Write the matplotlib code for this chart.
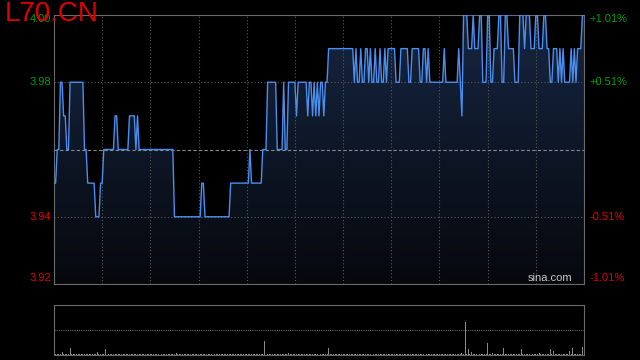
import numpy as np
import matplotlib.pyplot as plt
from matplotlib.patches import Polygon

plt.rcParams['font.family'] = ['Liberation Sans', 'DejaVu Sans']

# price: minute where each run starts, and price during that run (prev close 3.96)
seg_start = [0, 2, 4, 6, 8, 10, 19, 21, 26, 29, 31, 38, 40, 47, 51, 52, 53, 75, 92, 94,
             110, 122, 123, 130, 133, 139, 143, 144, 146, 151, 152, 158, 159, 161, 162, 163,
             164, 165, 166, 168, 169, 171, 187, 188, 189, 191, 192, 194, 196, 197, 198, 200,
             201, 203, 204, 206, 207, 208, 213, 216, 221, 223, 228, 230, 232, 233, 234, 243,
             244, 252, 253, 254, 255, 258, 261, 262, 265, 267, 270, 272, 274, 277, 279, 281,
             283, 287, 290, 293, 294, 297, 300, 302, 305, 307, 309, 311, 314, 315, 316, 317,
             318, 322, 323, 324, 325, 326, 329]
seg_price = [3.95, 3.96, 3.98, 3.97, 3.96, 3.98, 3.96, 3.95, 3.94, 3.95, 3.96, 3.97, 3.96,
             3.97, 3.96, 3.97, 3.96, 3.94, 3.95, 3.94, 3.95, 3.96, 3.95, 3.96, 3.98, 3.96,
             3.98, 3.96, 3.98, 3.97, 3.98, 3.97, 3.98, 3.97, 3.98, 3.97, 3.98, 3.97, 3.98,
             3.97, 3.98, 3.99, 3.98, 3.99, 3.98, 3.99, 3.98, 3.99, 3.98, 3.99, 3.98, 3.99,
             3.98, 3.99, 3.98, 3.99, 3.98, 3.99, 3.98, 3.99, 3.98, 3.99, 3.98, 3.99, 3.98,
             3.99, 3.98, 3.99, 3.98, 3.99, 3.98, 3.97, 4.00, 3.99, 4.00, 3.99, 4.00, 3.98,
             4.00, 3.98, 3.99, 4.00, 3.98, 4.00, 3.99, 3.98, 4.00, 3.99, 4.00, 3.99, 4.00,
             3.99, 4.00, 3.99, 3.98, 3.99, 3.98, 3.99, 3.98, 3.99, 3.98, 3.99, 3.98, 3.99,
             3.98, 3.99, 4.00]
n_minutes = 331
prev_close = 3.96

# volume spikes (thousand shares), everything else small
vol_minute = [5, 10, 27, 32, 76, 131, 146, 171, 254, 256, 258, 260, 270, 273, 280, 291,
              302, 309, 311, 321, 323, 329]
vol_k = [16, 44, 20, 38, 14, 86, 14, 44, 12, 200, 38, 20, 70, 14, 44, 38, 12, 38, 26, 24,
         44, 50]
base_vol_k = 5

left_ticks = [4.00, 3.98, 3.94, 3.92]
right_labels = ['+1.01%', '+0.51%', '-0.51%', '-1.01%']
tick_colors = ['#00a000', '#00a000', '#e00000', '#e00000']

price = np.repeat(seg_price, np.diff(seg_start + [n_minutes]))
minutes = np.arange(n_minutes)
vol = np.full(n_minutes, base_vol_k, dtype=float)
vol[vol_minute] = vol_k

fig = plt.figure(figsize=(6.4, 3.6), dpi=100, facecolor='black')
ax = fig.add_axes([54/640, 76/360, 530/640, 269/360], facecolor='black')
ax.set_xlim(0, n_minutes - 1)
ax.set_ylim(3.92, 4.00)

# gradient fill under the line
verts = [(0, 3.92)] + list(zip(minutes, price)) + [(n_minutes - 1, 3.92)]
poly = Polygon(verts, closed=True, facecolor='none', edgecolor='none')
ax.add_patch(poly)
grad = np.linspace(0, 1, 256).reshape(-1, 1)
top_c = np.array([22, 38, 66]) / 255
bot_c = np.array([6, 8, 12]) / 255
img = top_c * grad[..., None] + bot_c * (1 - grad[..., None])
im = ax.imshow(img, extent=[0, n_minutes - 1, 3.92, 4.00], origin='lower',
               aspect='auto', zorder=1)
im.set_clip_path(poly)

for m in range(30, 330, 30):
    ax.axvline(m, color='#5a5a5a', lw=0.8, ls=(0, (1, 2)), zorder=2)
for p in [3.94, 3.98]:
    ax.axhline(p, color='#5a5a5a', lw=0.8, ls=(0, (1, 2)), zorder=2)
ax.axhline(prev_close, color='#8a8a8a', lw=0.8, ls=(0, (3, 2)), zorder=2)

ax.plot(minutes, price, color='#4a8ef0', lw=1.0, zorder=3)

for s in ax.spines.values():
    s.set_color('#6a6a6a')
ax.set_xticks([])
ax.set_yticks([])

trans = ax.get_yaxis_transform()
label_y = [3.9988, 3.98, 3.94, 3.9218]
for y, t, r, c in zip(label_y, left_ticks, right_labels, tick_colors):
    ax.text(-0.006, y, f'{t:.2f}', transform=trans, ha='right', va='center',
            color=c, fontsize=8)
    ax.text(1.011, y, r, transform=trans, ha='left', va='center', color=c, fontsize=8)

ax.text(0.978, 0.005, 'sina.com', transform=ax.transAxes, ha='right', va='bottom',
        color='#c8c8c8', fontsize=8)

fig.text(5/640, 1 - 1/360, 'L70.CN', color='#e00000', fontsize=20, ha='left', va='top')

# volume panel
vax = fig.add_axes([54/640, 5/360, 530/640, 50/360], facecolor='black')
vax.set_xlim(0, n_minutes - 1)
vax.set_ylim(0, 300)
vax.bar(minutes, vol, width=0.6, color='#8a8a8a', zorder=3)
vax.axhline(150, color='#6a6a6a', lw=0.8, ls=(0, (1, 1)))
vax.spines['top'].set_color('#6a6a6a')
vax.spines['top'].set_linestyle((0, (1, 1)))
for k in ['left', 'right', 'bottom']:
    vax.spines[k].set_color('#6a6a6a')
vax.set_xticks([])
vax.set_yticks([])

fig.savefig('out.png', dpi=100, facecolor='black')
